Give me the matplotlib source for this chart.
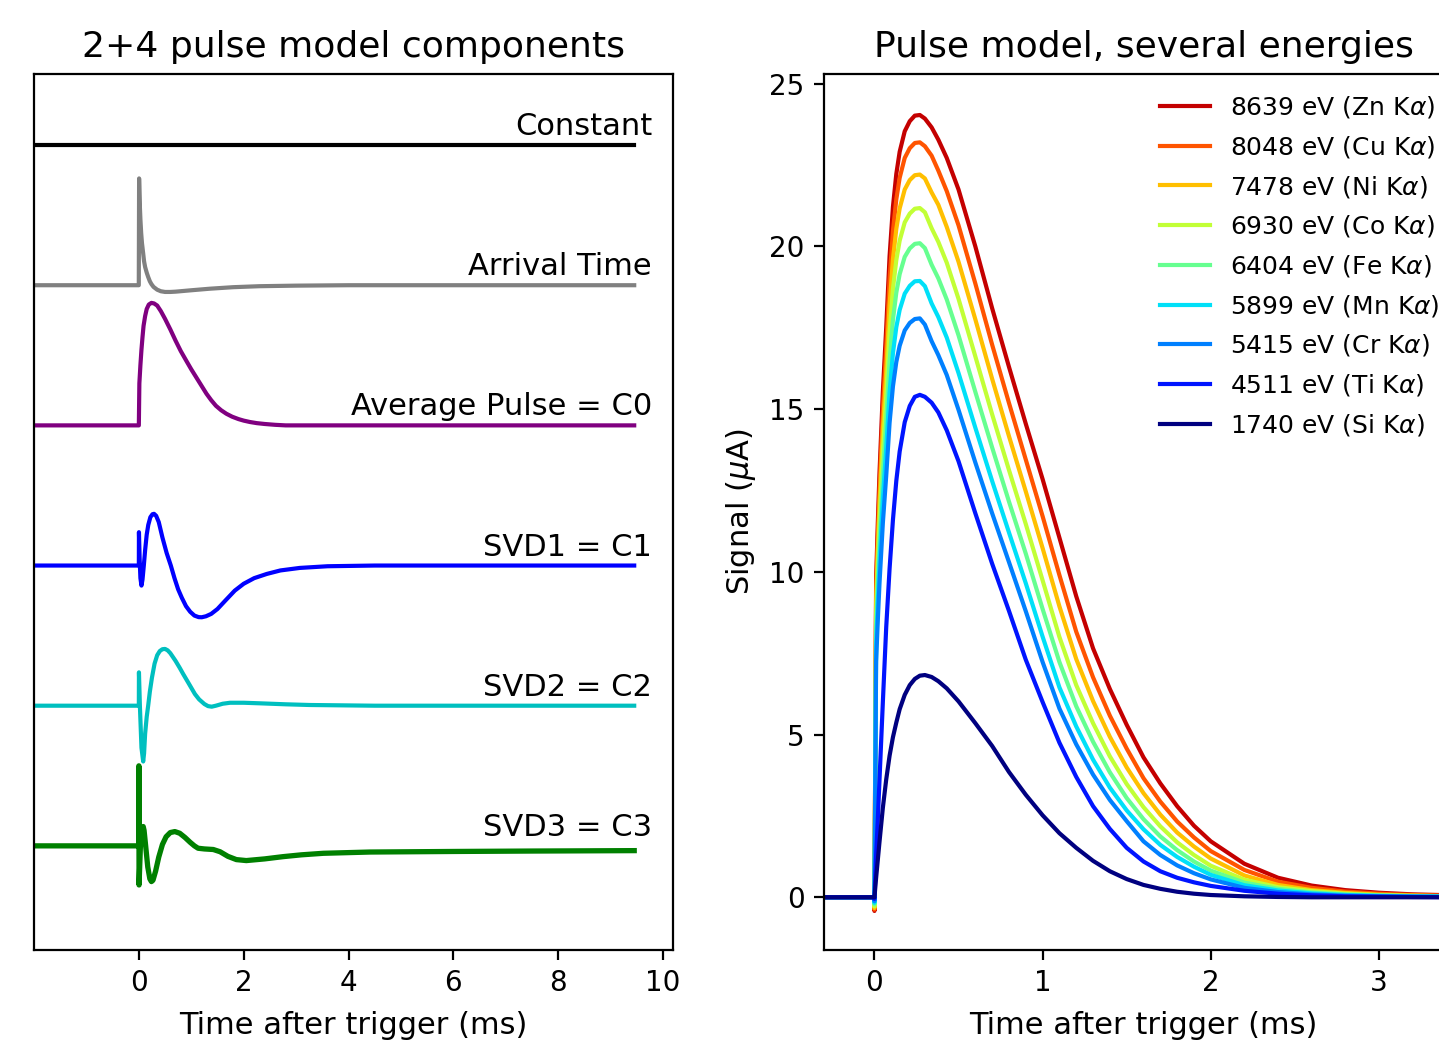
import matplotlib
matplotlib.use("Agg")
import matplotlib.pyplot as plt
import numpy as np

# ---------------- left panel: pulse model components (offset units) ----------------
COMPONENT_NAMES = ["Constant", "Arrival Time", "Average Pulse = C0",
                   "SVD1 = C1", "SVD2 = C2", "SVD3 = C3"]
COMPONENT_COLORS = ["k", "gray", "purple", "b", "c", "g"]
COMPONENT_OFFSETS = [5, 4, 3, 2, 1, 0]

const_t = [-2.0, 9.45]
const_v = [0.0, 0.0]

arrival_t = [-2.0, -0.001, 0.005, 0.012, 0.02, 0.03, 0.045, 0.06, 0.083, 0.1, 0.12, 0.15,
             0.177, 0.21, 0.24, 0.28, 0.35, 0.42, 0.5, 0.6, 0.7, 0.85, 1.0, 1.35, 1.8, 2.3,
             3.0, 4.0, 9.45]
arrival_v = [0.0, 0.0, 0.762, 0.66, 0.56, 0.47, 0.37, 0.30, 0.226, 0.17, 0.13, 0.09,
             0.06, 0.028, 0.008, -0.012, -0.032, -0.043, -0.048, -0.048, -0.046, -0.041,
             -0.036, -0.025, -0.014, -0.007, -0.003, 0.0, 0.0]

avg_t = [-2.0, 0.0, 0.01, 0.03, 0.05, 0.07, 0.09, 0.12, 0.15, 0.19, 0.24, 0.29, 0.35, 0.42,
         0.5, 0.6, 0.7, 0.8, 0.91, 1.0, 1.1, 1.2, 1.29, 1.38, 1.47, 1.57, 1.67, 1.78, 1.9,
         2.0, 2.12, 2.25, 2.4, 2.6, 2.8, 9.45]
avg_v = [0.0, 0.0, 0.30, 0.43, 0.54, 0.63, 0.71, 0.78, 0.83, 0.862, 0.874, 0.87, 0.855,
         0.815, 0.76, 0.685, 0.605, 0.53, 0.458, 0.40, 0.34, 0.28, 0.226, 0.18, 0.14, 0.108,
         0.083, 0.062, 0.045, 0.034, 0.024, 0.016, 0.01, 0.004, 0.0, 0.0]

svd1_t = [-2.0, 0.0, 0.002, 0.015, 0.03, 0.05, 0.07, 0.095, 0.12, 0.15, 0.18, 0.22, 0.26,
          0.29, 0.33, 0.38, 0.45, 0.53, 0.61, 0.68, 0.75, 0.82, 0.9, 0.98, 1.06, 1.14, 1.2,
          1.28, 1.38, 1.5, 1.65, 1.83, 2.0, 2.2, 2.44, 2.7, 3.07, 3.6, 4.5, 9.45]
svd1_v = [0.0, 0.0, 0.238, 0.05, -0.09, -0.143, -0.1, 0.0, 0.11, 0.22, 0.29, 0.345, 0.366,
          0.369, 0.355, 0.31, 0.2, 0.09, 0.0, -0.09, -0.17, -0.23, -0.29, -0.33, -0.357,
          -0.368, -0.369, -0.362, -0.345, -0.31, -0.25, -0.179, -0.13, -0.09, -0.06, -0.035,
          -0.017, -0.005, 0.0, 0.0]

svd2_t = [-2.0, 0.0, 0.002, 0.02, 0.05, 0.083, 0.1, 0.12, 0.15, 0.178, 0.21, 0.25, 0.3,
          0.35, 0.4, 0.45, 0.5, 0.55, 0.6, 0.7, 0.78, 0.846, 0.95, 1.07, 1.15, 1.25, 1.32,
          1.39, 1.47, 1.6, 1.74, 2.0, 2.31, 2.8, 3.26, 4.5, 9.45]
svd2_v = [0.0, 0.0, 0.238, 0.0, -0.3, -0.398, -0.34, -0.2, -0.08, 0.0, 0.1, 0.2, 0.3,
          0.36, 0.39, 0.403, 0.405, 0.395, 0.375, 0.32, 0.27, 0.226, 0.16, 0.083, 0.045,
          0.012, -0.003, -0.007, 0.0, 0.014, 0.021, 0.021, 0.017, 0.01, 0.005, 0.0, 0.0]

svd3_t = [-2.0, 0.0, 0.001, 0.004, 0.03, 0.06, 0.083, 0.1, 0.13, 0.17, 0.21, 0.24, 0.27,
          0.32, 0.38, 0.45, 0.52, 0.6, 0.687, 0.78, 0.88, 0.98, 1.06, 1.13, 1.25, 1.42,
          1.55, 1.7, 1.86, 2.05, 2.4, 2.75, 3.1, 3.52, 4.41, 6.0, 7.5, 9.45]
svd3_v = [0.0, 0.0, 0.571, -0.279, 0.0, 0.11, 0.138, 0.11, 0.0, -0.15, -0.235, -0.255,
          -0.245, -0.18, -0.08, 0.01, 0.065, 0.095, 0.102, 0.09, 0.06, 0.025, 0.0, -0.017,
          -0.022, -0.026, -0.042, -0.075, -0.098, -0.105, -0.093, -0.077, -0.064, -0.053,
          -0.044, -0.04, -0.037, -0.034]

components = [(const_t, const_v), (arrival_t, arrival_v), (avg_t, avg_v),
              (svd1_t, svd1_v), (svd2_t, svd2_v), (svd3_t, svd3_v)]

# ---------------- right panel: pulse model at several energies (uA) ----------------
time_ms = [-0.5, -0.002, 0.0,
           0.01, 0.02, 0.03, 0.05, 0.07, 0.09, 0.11, 0.13, 0.15, 0.18, 0.21, 0.24, 0.27, 0.30,
           0.34, 0.38, 0.43, 0.5,
           0.6, 0.7, 0.8, 0.9, 1.0, 1.1, 1.2, 1.3, 1.4, 1.5,
           1.6, 1.7, 1.8, 1.9, 2.0, 2.2, 2.4, 2.6, 2.8, 3.0, 3.2, 3.6]

energy_labels = ["8639 eV (Zn K$\\alpha$)", "8048 eV (Cu K$\\alpha$)", "7478 eV (Ni K$\\alpha$)",
                 "6930 eV (Co K$\\alpha$)", "6404 eV (Fe K$\\alpha$)", "5899 eV (Mn K$\\alpha$)",
                 "5415 eV (Cr K$\\alpha$)", "4511 eV (Ti K$\\alpha$)", "1740 eV (Si K$\\alpha$)"]
energy_colors = ["#c40000", "#ff5400", "#ffbf00", "#c2ff36", "#66ff90", "#00e0f8",
                 "#0080ff", "#0014ff", "#000080"]

zn = [0, 0, -0.42,
      9.8, 11.5, 13.03, 15.54, 17.5, 19.7, 21.22, 22.23, 22.91, 23.54, 23.85, 24.02, 24.04, 23.93,
      23.66, 23.28, 22.72, 21.75,
      20.0, 18.1, 16.3, 14.55, 12.85, 11.05, 9.25, 7.65, 6.4, 5.3,
      4.3, 3.5, 2.8, 2.2, 1.72, 1.03, 0.6, 0.36, 0.22, 0.14, 0.09, 0.04]
cu = [0, 0, -0.38,
      9.46, 11.1, 12.57, 15.0, 16.89, 19.01, 20.48, 21.45, 22.11, 22.72, 23.02, 23.18, 23.2, 23.08,
      22.79, 22.33, 21.7, 20.65,
      18.86, 16.98, 15.19, 13.45, 11.71, 9.9, 8.16, 6.76, 5.58, 4.57,
      3.66, 2.94, 2.33, 1.84, 1.42, 0.84, 0.48, 0.29, 0.175, 0.11, 0.07, 0.03]
ni = [0, 0, -0.33,
      9.06, 10.63, 12.04, 14.36, 16.17, 18.2, 19.61, 20.54, 21.17, 21.75, 22.04, 22.19, 22.21, 22.09,
      21.66, 21.28, 20.6, 19.53,
      17.76, 15.93, 14.17, 12.47, 10.73, 8.94, 7.32, 6.03, 4.93, 3.99,
      3.2, 2.54, 1.99, 1.56, 1.19, 0.67, 0.38, 0.22, 0.135, 0.08, 0.05, 0.02]
co = [0, 0, -0.28,
      8.63, 10.13, 11.48, 13.69, 15.42, 17.36, 18.7, 19.58, 20.18, 20.74, 21.01, 21.16, 21.18, 21.05,
      20.56, 20.14, 19.5, 18.39,
      16.62, 14.84, 13.13, 11.47, 9.74, 8.0, 6.52, 5.35, 4.33, 3.48,
      2.77, 2.18, 1.69, 1.3, 0.97, 0.54, 0.31, 0.19, 0.11, 0.066, 0.045, 0.02]
fe = [0, 0, -0.22,
      8.19, 9.61, 10.89, 12.99, 14.63, 16.47, 17.74, 18.58, 19.15, 19.68, 19.94, 20.08, 20.1, 19.95,
      19.44, 19.02, 18.37, 17.27,
      15.53, 13.82, 12.16, 10.56, 8.86, 7.23, 5.87, 4.78, 3.84, 3.05,
      2.40, 1.87, 1.45, 1.1, 0.82, 0.45, 0.26, 0.15, 0.09, 0.055, 0.035, 0.015]
mn = [0, 0, -0.17,
      7.72, 9.06, 10.27, 12.25, 13.79, 15.52, 16.72, 17.52, 18.05, 18.55, 18.79, 18.93, 18.94, 18.78,
      18.25, 17.83, 17.2, 16.11,
      14.43, 12.79, 11.21, 9.65, 8.01, 6.45, 5.25, 4.23, 3.37, 2.67,
      2.09, 1.61, 1.24, 0.94, 0.69, 0.37, 0.21, 0.12, 0.07, 0.045, 0.03, 0.01]
cr = [0, 0, -0.12,
      7.25, 8.51, 9.64, 11.5, 12.95, 14.58, 15.7, 16.45, 16.95, 17.42, 17.65, 17.77, 17.79, 17.6,
      17.09, 16.66, 16.05, 14.98,
      13.36, 11.8, 10.3, 8.79, 7.23, 5.8, 4.7, 3.77, 2.99, 2.34,
      1.72, 1.3, 0.98, 0.74, 0.55, 0.29, 0.16, 0.09, 0.05, 0.03, 0.02, 0.01]
ti = [0, 0, -0.05,
      1.3, 2.4, 3.6, 6.0, 8.3, 10.1, 11.6, 12.8, 13.7, 14.6, 15.1, 15.38, 15.44, 15.38,
      15.2, 14.9, 14.35, 13.4,
      11.8, 10.25, 8.8, 7.3, 6.0, 4.75, 3.7, 2.8, 2.1, 1.52,
      1.1, 0.8, 0.6, 0.46, 0.35, 0.2, 0.11, 0.06, 0.03, 0.02, 0.01, 0.0]
si = [0, 0, 0.0,
      0.6, 1.15, 1.7, 2.75, 3.62, 4.35, 4.92, 5.37, 5.78, 6.22, 6.52, 6.71, 6.81, 6.83,
      6.77, 6.64, 6.42, 6.02,
      5.35, 4.65, 3.85, 3.15, 2.52, 1.97, 1.52, 1.12, 0.8, 0.56,
      0.38, 0.26, 0.17, 0.11, 0.07, 0.03, 0.01, 0, 0, 0, 0, 0]
energy_series = [zn, cu, ni, co, fe, mn, cr, ti, si]

# ---------------- figure ----------------
W, H, DPI = 1439, 1047, 200
fig = plt.figure(figsize=(W / DPI, H / DPI), dpi=DPI)
ax1 = fig.add_axes([34 / W, 1 - 950 / H, 639 / W, 876 / H])
ax2 = fig.add_axes([824 / W, 1 - 950 / H, 639 / W, 876 / H])

for (t, v), name, color, off in zip(components, COMPONENT_NAMES, COMPONENT_COLORS, COMPONENT_OFFSETS):
    lw = 1.9 if name.startswith("SVD3") else 1.5
    ax1.plot(t, np.array(v) + off, color=color, lw=lw)
    ax1.text(9.79, off + 0.071, name, ha="right", va="baseline", fontsize=11)

ax1.set_xlim(-2.0, 10.19)
ax1.set_ylim(-0.743, 5.507)
ax1.set_yticks([])
ax1.set_xticks([0, 2, 4, 6, 8, 10])
ax1.set_xlabel("Time after trigger (ms)", fontsize=11, labelpad=5)
ax1.set_title("2+4 pulse model components", fontsize=13)

for vals, lab, col in zip(energy_series, energy_labels, energy_colors):
    ax2.plot(time_ms, vals, color=col, lw=1.5, label=lab)

ax2.set_xlim(-0.3, 3.5)
ax2.set_ylim(-1.62, 25.3)
ax2.set_xticks([0, 1, 2, 3])
ax2.set_yticks([0, 5, 10, 15, 20, 25])
ax2.set_xlabel("Time after trigger (ms)", fontsize=11, labelpad=5)
ax2.set_ylabel("Signal ($\\mu$A)", fontsize=11)
ax2.set_title("Pulse model, several energies", fontsize=13)
ax2.legend(frameon=False, fontsize=9, loc="upper left", labelspacing=0.55,
           bbox_to_anchor=(1160 / W, 1 - 94 / H), bbox_transform=fig.transFigure,
           borderpad=0, borderaxespad=0)

fig.savefig("out.png", dpi=DPI)
